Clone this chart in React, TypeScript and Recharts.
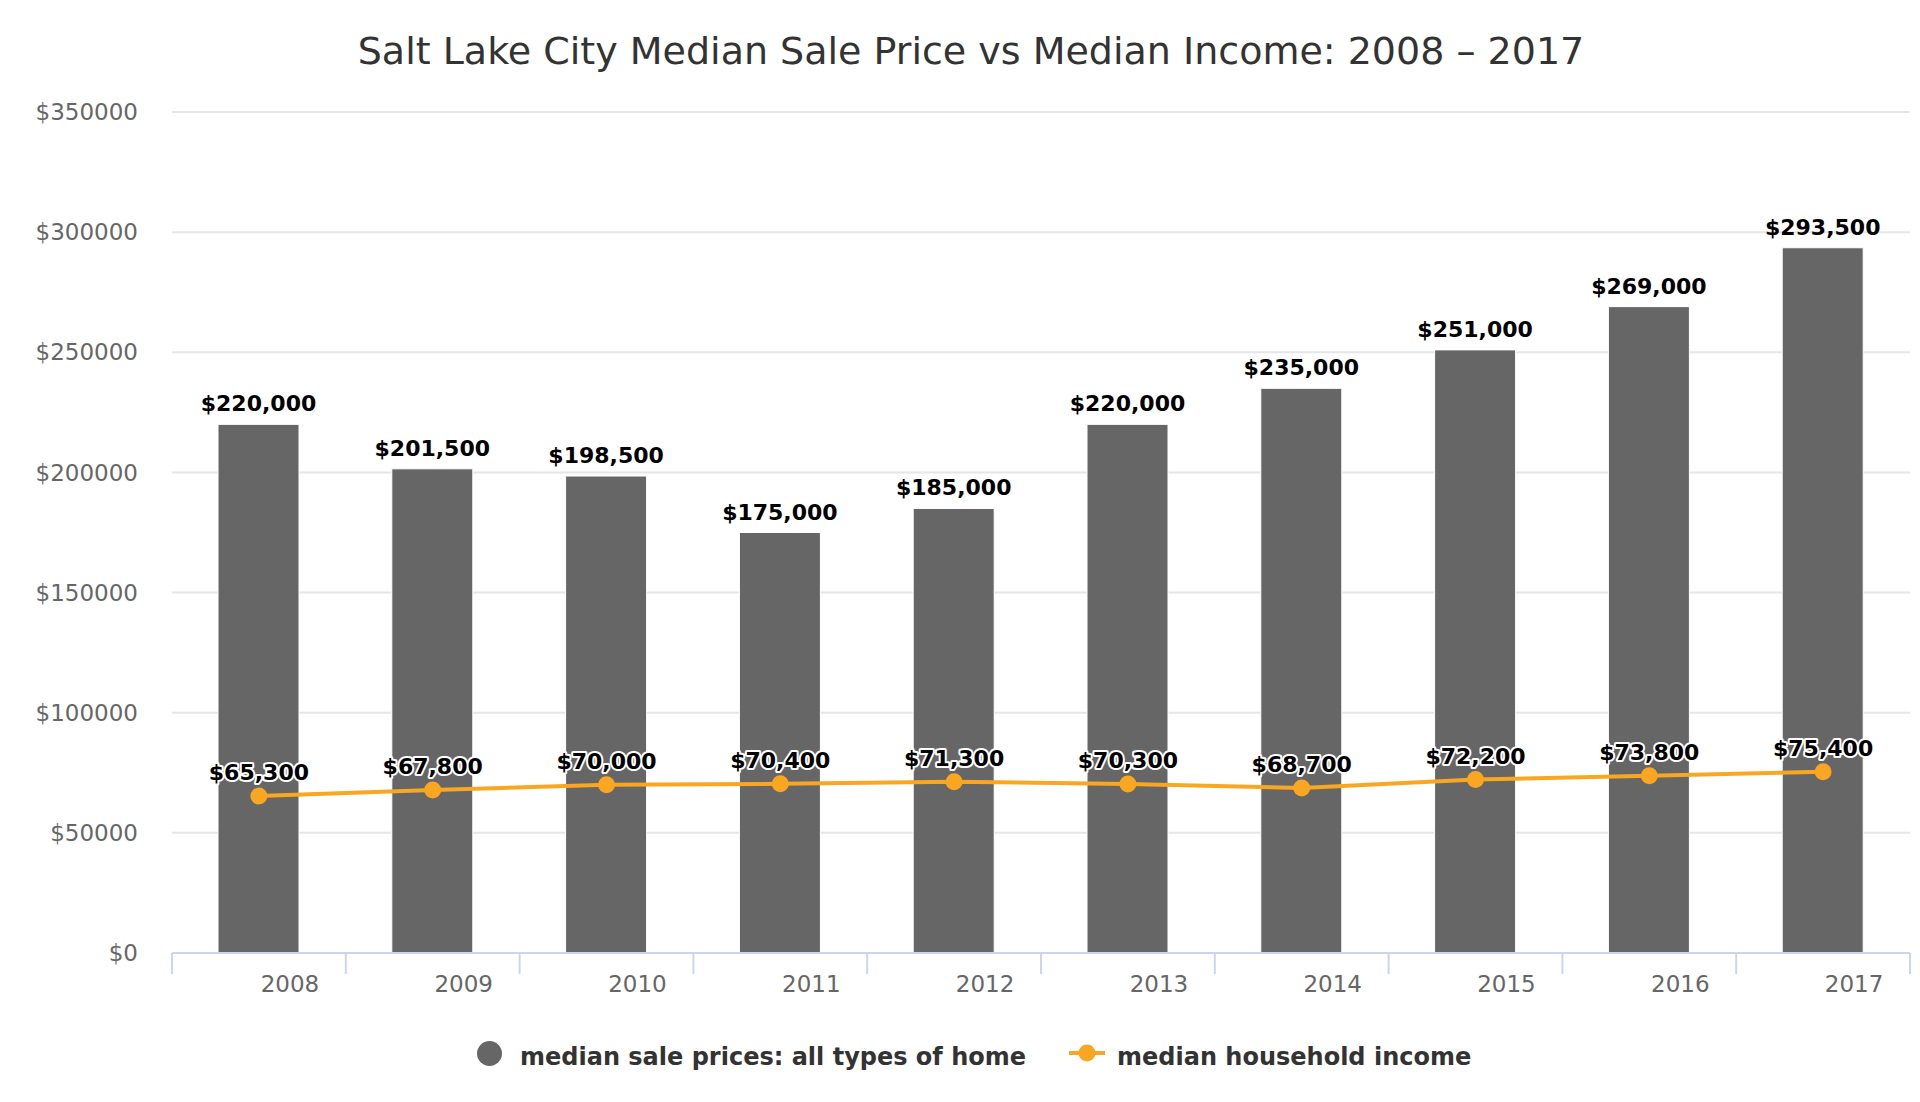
import React from "react";
import {
  Bar,
  CartesianGrid,
  ComposedChart,
  LabelList,
  Line,
  XAxis,
  YAxis,
} from "recharts";

const years = ["2008", "2009", "2010", "2011", "2012", "2013", "2014", "2015", "2016", "2017"];
const salePrices = [220000, 201500, 198500, 175000, 185000, 220000, 235000, 251000, 269000, 293500];
const incomes = [65300, 67800, 70000, 70400, 71300, 70300, 68700, 72200, 73800, 75400];
const yTicks = [0, 50000, 100000, 150000, 200000, 250000, 300000, 350000];

const W = 1920;
const H = 1102;
const FONT = "'DejaVu Sans', sans-serif";
const GRAY = "#666666";
const ORANGE = "#f9a722";
const M = { top: 112, right: 10, left: 0, bottom: 89 };
const Y_W = 172;
const HALF_BAND = (W - Y_W - M.right) / years.length / 2;

const data = years.map((year, i) => ({
  year,
  price: salePrices[i],
  income: incomes[i],
}));

const money = (v: number) => "$" + Number(v).toLocaleString("en-US");

function YearTick(props: any) {
  const { x, y, payload, index, visibleTicksCount } = props;
  const left = x - HALF_BAND;
  return (
    <g>
      <line x1={left} x2={left} y1={y} y2={y + 21} stroke="#ccd6eb" strokeWidth={2} />
      {index === visibleTicksCount - 1 && (
        <line x1={x + HALF_BAND} x2={x + HALF_BAND} y1={y} y2={y + 21} stroke="#ccd6eb" strokeWidth={2} />
      )}
      <text
        x={x + 31}
        y={y + 31}
        textAnchor="middle"
        dominantBaseline="central"
        fill="#666666"
        fontSize={23}
        fontFamily={FONT}
      >
        {payload.value}
      </text>
    </g>
  );
}

function IncomeLabel(props: any) {
  const { x, y, value } = props;
  return (
    <text
      x={x}
      y={y - 16}
      textAnchor="middle"
      fill="#000"
      stroke="#fff"
      strokeWidth={4}
      strokeLinejoin="round"
      paintOrder="stroke"
      fontSize={22}
      fontWeight="bold"
      fontFamily={FONT}
    >
      {money(value)}
    </text>
  );
}

export default function App() {
  return (
    <div
      style={{
        position: "fixed",
        left: 0,
        top: 0,
        width: W,
        height: H,
        background: "#fff",
        overflow: "hidden",
        fontFamily: FONT,
      }}
    >
      <div
        style={{
          position: "absolute",
          top: 29,
          left: 0,
          width: 1942,
          textAlign: "center",
          fontSize: 38,
          lineHeight: "44px",
          color: "#333333",
        }}
      >
        Salt Lake City Median Sale Price vs Median Income: 2008 – 2017
      </div>

      <ComposedChart width={W} height={H} data={data} margin={M}>
        <CartesianGrid stroke="#e6e6e6" strokeWidth={2} vertical={false} />
        <XAxis
          dataKey="year"
          height={60}
          axisLine={{ stroke: "#ccd6eb", strokeWidth: 2 }}
          tickLine={false}
          tickSize={0}
          tickMargin={0}
          interval={0}
          tick={<YearTick />}
        />
        <YAxis
          width={Y_W}
          domain={[0, 350000]}
          ticks={yTicks}
          interval={0}
          tickFormatter={(v) => `$${v}`}
          tick={{ fill: "#666666", fontSize: 23, fontFamily: FONT }}
          axisLine={false}
          tickLine={false}
          tickSize={0}
          tickMargin={34}
        />
        <Bar
          dataKey="price"
          fill={GRAY}
          barSize={81}
          stroke="#ffffff"
          strokeWidth={1}
          isAnimationActive={false}
        >
          <LabelList
            dataKey="price"
            position="top"
            offset={13}
            formatter={(v: any) => money(v)}
            fill="#000"
            fontSize={22}
            fontWeight="bold"
            fontFamily={FONT}
          />
        </Bar>
        <Line
          dataKey="income"
          type="linear"
          stroke={ORANGE}
          strokeWidth={4}
          dot={{ r: 8.5, fill: ORANGE, stroke: "none" }}
          activeDot={false}
          isAnimationActive={false}
        >
          <LabelList dataKey="income" content={<IncomeLabel />} />
        </Line>
      </ComposedChart>

      <div
        style={{
          position: "absolute",
          left: 476,
          top: 1053 - 14,
          height: 28,
          display: "flex",
          alignItems: "center",
          fontSize: 24,
          fontWeight: "bold",
          color: "#333333",
          whiteSpace: "nowrap",
        }}
      >
        <svg width={27} height={27} style={{ marginRight: 17 }}>
          <circle cx={13.5} cy={13.5} r={12.5} fill={GRAY} />
        </svg>
        <span style={{ position: "relative", top: 4 }}>median sale prices: all types of home</span>
        <svg width={36} height={20} style={{ marginLeft: 43, marginRight: 12 }}>
          <line x1={0} x2={36} y1={10} y2={10} stroke={ORANGE} strokeWidth={4} />
          <circle cx={18} cy={10} r={8.5} fill={ORANGE} />
        </svg>
        <span style={{ position: "relative", top: 4 }}>median household income</span>
      </div>
    </div>
  );
}
